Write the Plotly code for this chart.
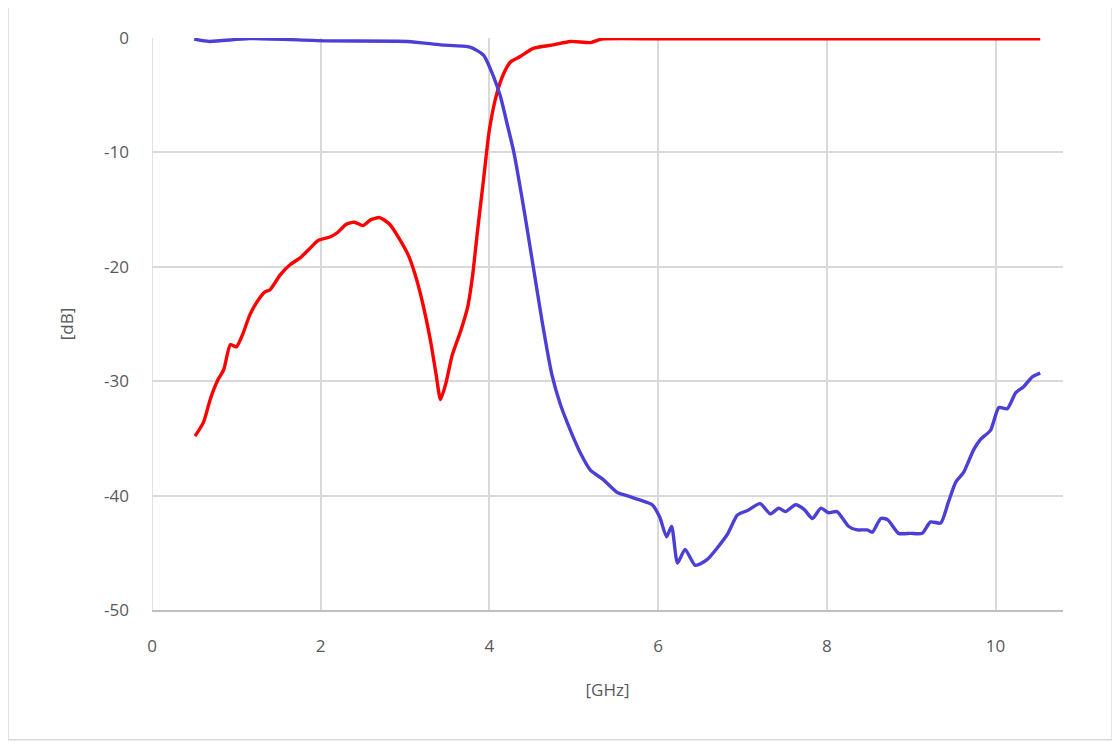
import plotly.graph_objects as go

# S11 (red)
s11_ghz = [0.51, 0.61, 0.69, 0.78, 0.85, 0.93, 1.0, 1.07, 1.16, 1.26, 1.34, 1.4, 1.52, 1.64, 1.76,
           1.87, 1.97, 2.11, 2.2, 2.3, 2.4, 2.5, 2.59, 2.7, 2.82, 2.92, 3.04, 3.12, 3.2, 3.3, 3.37,
           3.42, 3.48, 3.56, 3.66, 3.74, 3.8, 3.86, 3.93, 4.0, 4.09, 4.17, 4.25, 4.37, 4.52, 4.76,
           4.96, 5.2, 5.33, 6.0, 7.0, 8.0, 9.0, 10.0, 10.53]
s11_db = [-34.8, -33.6, -31.6, -29.9, -29.0, -26.8, -27.0, -26.0, -24.2, -22.9, -22.2, -22.0, -20.7,
          -19.8, -19.2, -18.4, -17.7, -17.4, -17.0, -16.3, -16.1, -16.4, -15.9, -15.7, -16.3, -17.4,
          -19.0, -20.7, -22.9, -26.4, -29.5, -31.6, -30.3, -27.7, -25.6, -23.6, -20.8, -16.8, -12.4,
          -8.0, -4.8, -3.1, -2.1, -1.6, -0.9, -0.6, -0.3, -0.4, -0.1, -0.08, -0.08, -0.08, -0.08,
          -0.08, -0.08]

# S21 (blue)
s21_ghz = [0.5, 0.68, 1.15, 2.07, 3.03, 3.42, 3.77, 3.93, 4.05, 4.13, 4.21, 4.29, 4.41, 4.52, 4.63,
           4.74, 4.84, 4.96, 5.08, 5.2, 5.35, 5.51, 5.63, 5.75, 5.87, 5.93, 6.02, 6.1, 6.16, 6.23,
           6.32, 6.44, 6.58, 6.82, 6.94, 7.06, 7.21, 7.33, 7.43, 7.51, 7.63, 7.73, 7.83, 7.93,
           8.02, 8.12, 8.26, 8.36, 8.48, 8.54, 8.64, 8.72, 8.85, 8.99, 9.13, 9.23, 9.35, 9.44,
           9.53, 9.62, 9.74, 9.82, 9.94, 10.04, 10.14, 10.24, 10.33, 10.44, 10.53]
s21_db = [-0.1, -0.3, -0.05, -0.25, -0.3, -0.6, -0.8, -1.5, -3.4, -5.1, -7.5, -10.0, -15.0, -20.0,
          -25.0, -29.4, -32.0, -34.3, -36.3, -37.8, -38.6, -39.7, -40.0, -40.3, -40.6, -40.8, -41.9,
          -43.6, -42.7, -45.9, -44.7, -46.1, -45.6, -43.4, -41.7, -41.3, -40.7, -41.6, -41.1, -41.4,
          -40.8, -41.2, -42.0, -41.1, -41.5, -41.4, -42.7, -43.0, -43.0, -43.2, -42.0, -42.1, -43.3,
          -43.3, -43.3, -42.3, -42.4, -40.6, -38.8, -38.0, -36.0, -35.1, -34.3, -32.3, -32.4, -31.0,
          -30.5, -29.6, -29.3]

x_ticks = [0, 2, 4, 6, 8, 10]
y_ticks = [0, -10, -20, -30, -40, -50]
y_ticktext = ["0", "-10", "-20", "-30", "-40", "-50"]

fig = go.Figure()
fig.add_trace(go.Scatter(x=s11_ghz, y=s11_db, mode="lines", name="S11",
                         line=dict(color="#FF0000", width=3.4, shape="spline", smoothing=0.6)))
fig.add_trace(go.Scatter(x=s21_ghz, y=s21_db, mode="lines", name="S21",
                         line=dict(color="#4B3FD6", width=3.4, shape="spline", smoothing=0.6)))

font = dict(family="Open Sans", size=17, color="#595959")
fig.update_layout(
    width=1120, height=745,
    margin=dict(l=144, r=65, t=30, b=143),
    paper_bgcolor="white", plot_bgcolor="white",
    showlegend=False,
    font=font,
    xaxis=dict(range=[0, 10.8], tickvals=x_ticks, showgrid=True, gridcolor="#d9d9d9", gridwidth=1.5,
               zeroline=False, showline=True, linecolor="#bfbfbf", linewidth=1.5,
               ticks="", ticklabelstandoff=20,
               title=dict(text="[GHz]", standoff=28, font=font)),
    yaxis=dict(range=[-50, 0], tickvals=y_ticks, ticktext=y_ticktext, showgrid=True,
               gridcolor="#d9d9d9", gridwidth=1.5,
               zeroline=False, showline=False, ticks="", ticklabelstandoff=22,
               title=dict(text="[dB]", standoff=26, font=font)),
)
fig.add_shape(type="rect", xref="paper", yref="paper",
              x0=-0.158, x1=1.054, y0=-0.227, y1=1.058,
              line=dict(color="#d9d9d9", width=1.5), layer="below")
fig.add_shape(type="line", xref="x", yref="paper", x0=0, x1=0, y0=0, y1=1,
              line=dict(color="#d9d9d9", width=1.5), layer="below")

fig.write_html("out.html")
